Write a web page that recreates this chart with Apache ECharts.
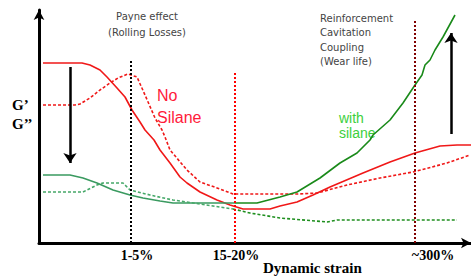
<!DOCTYPE html>
<html>
<head>
<meta charset="utf-8">
<script src="https://cdn.jsdelivr.net/npm/echarts@6/dist/echarts.min.js"></script>
<style>
  html, body { margin: 0; padding: 0; background: #fff; }
  #chart { width: 471px; height: 276px; }
</style>
</head>
<body>
<div id="chart"></div>
<script>
// schematic units: x = strain (0..432), y = modulus (0..233)
const gPrimeNoSilane = [[4,180],[43,180],[51,178],[61,173],[68,166],[78,155],[86,146],[93,133],[101,121],[106,113],[115,103],[121,93],[131,80],[141,66],[148,60],[161,51],[178,43],[191,38],[204,34],[231,34],[241,37],[258,41],[274,48],[291,56],[324,70],[351,81],[376,90],[401,97],[418,98],[432,98]];
const gDoubleNoSilane = [[4,138],[36,138],[41,139],[51,145],[61,153],[71,160],[79,165],[89,169],[98,166],[106,148],[116,125],[123,113],[126,106],[131,93],[148,73],[161,61],[178,55],[194,49],[258,49],[278,50],[308,58],[341,65],[374,71],[408,80],[431,88]];
const gPrimeSilaneLow = [[4,68],[31,68],[44,65],[58,60],[74,53],[91,48],[104,45],[121,42],[134,40],[196,40]];
const gPrimeSilaneHigh = [[196,40],[218,40],[241,46],[258,51],[281,65],[301,80],[318,90],[331,103],[334,108],[351,123],[364,140],[376,158],[383,168],[386,178],[391,183],[396,193],[404,206],[416,228]];
const gDoubleSilaneLow = [[4,51],[44,51],[58,58],[64,60],[84,60],[91,53],[111,48],[134,43],[161,39],[194,34]];
const gDoubleSilaneHigh = [[194,34],[211,30],[241,25],[288,21],[298,23],[418,23]];

// guide lines: [x, top y, colour]
const guides = [[92,183,'#000000'],[196,170,'#ff0000'],[376,224,'#800000']];
const arrows = [[31,176,31,80],[412,109,412,210]];
const tickLabels = [['1-5%',137],['15-20%',236],['~300%',433]];

const chart = echarts.init(document.getElementById('chart'), null, {renderer: 'svg'});

const red = '#f01818';
const dash = [3, 2];

function curve(data, color, dotted) {
  return {
    type: 'line', data: data, showSymbol: false, smooth: false, silent: true,
    lineStyle: {color: color, width: 1.6, type: dotted ? dash : 'solid'},
    z: 3
  };
}

const guideLines = guides.map(g => [
  {coord: [g[0], 0], lineStyle: {color: g[2], width: 2, type: [2, 2]}},
  {coord: [g[0], g[1]]}
]);
const arrowLines = arrows.map(a => [
  {coord: [a[0], a[1]]}, {coord: [a[2], a[3]]}
]);

const texts = [];
function txt(s, x, y, font, color, align) {
  texts.push({type: 'text', x: x, y: y, silent: true,
    style: {text: s, font: font, fill: color, align: align || 'left', verticalAlign: 'middle'}});
}
const note = '10px "DejaVu Sans"';
txt('Payne effect', 147, 16, note, '#444', 'center');
txt('(Rolling Losses)', 147, 32, note, '#444', 'center');
['Reinforcement','Cavitation','Coupling','(Wear life)'].forEach((s, i) => {
  txt(s, 320, [18, 32, 47, 61][i], note, '#444');
});
txt('G\u2019', 12, 105, 'bold 15px "Liberation Serif"', '#000');
txt('G\u2019\u2019', 12, 124, 'bold 15px "Liberation Serif"', '#000');
txt('No', 157, 95, '16px "Liberation Sans"', '#ff1a3a');
txt('Silane', 157, 117, '16px "Liberation Sans"', '#ff1a3a');
txt('with', 339, 118, '14px "Liberation Sans"', '#3ccf3c');
txt('silane', 339, 133, '14px "Liberation Sans"', '#3ccf3c');
tickLabels.forEach(t => txt(t[0], t[1], 255, 'bold 14px "Liberation Serif"', '#000', 'center'));
txt('Dynamic strain', 263, 268, 'bold 15px "Liberation Serif"', '#000');

chart.setOption({
  animation: false,
  grid: {left: 39, top: 10, width: 432, height: 233, containLabel: false},
  xAxis: {
    type: 'value', min: 0, max: 432,
    axisLine: {lineStyle: {color: '#000', width: 3}, symbol: ['none', 'arrow'], symbolSize: [8, 10]},
    axisTick: {show: false}, axisLabel: {show: false}, splitLine: {show: false}
  },
  yAxis: {
    type: 'value', min: 0, max: 233,
    axisLine: {lineStyle: {color: '#000', width: 3}, symbol: ['none', 'arrow'], symbolSize: [8, 10]},
    axisTick: {show: false}, axisLabel: {show: false}, splitLine: {show: false}
  },
  series: [
    {
      type: 'line', data: [], silent: true,
      markLine: {silent: true, symbol: 'none', label: {show: false}, data: guideLines, animation: false}
    },
    {
      type: 'line', data: [], silent: true,
      markLine: {silent: true, symbol: ['none', 'arrow'], symbolSize: 10, label: {show: false},
        lineStyle: {color: '#000', width: 2.5, type: 'solid'}, data: arrowLines, animation: false}
    },
    curve(gPrimeNoSilane, red, false),
    curve(gDoubleNoSilane, red, true),
    curve(gPrimeSilaneLow, '#3a9a60', false),
    curve(gPrimeSilaneHigh, '#1a8a1a', false),
    curve(gDoubleSilaneLow, '#45a868', true),
    curve(gDoubleSilaneHigh, '#1f8f1f', true)
  ],
  graphic: texts
});
</script>
</body>
</html>
